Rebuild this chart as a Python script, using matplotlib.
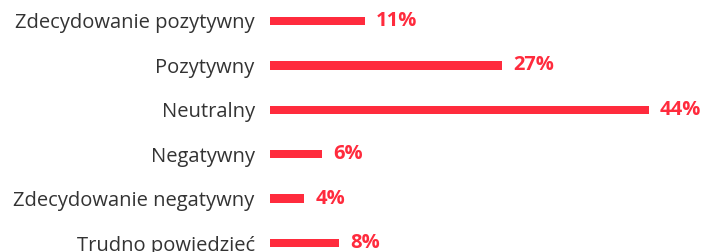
import matplotlib.pyplot as plt

categories = ["Zdecydowanie pozytywny", "Pozytywny", "Neutralny", "Negatywny",
              "Zdecydowanie negatywny", "Trudno powiedzieć"]
values = [11, 27, 44, 6, 4, 8]
labels = ["11%", "27%", "44%", "6%", "4%", "8%"]

red = "#FF2B3D"

fig = plt.figure(figsize=(7.04, 2.52), dpi=100)
ax = fig.add_axes([270 / 704, 0, 1 - 270 / 704, 1])

pos = list(range(len(categories)))
ax.barh(pos, values, height=0.19, color=red)
for p, v, t in zip(pos, values, labels):
    ax.text(v + 1.3, p, t, color=red, fontsize=14.5, fontweight="bold",
            va="center", ha="left", family="Open Sans")

ax.set_yticks(pos)
ax.set_yticklabels(categories, fontsize=14.5, color="#333333", family="Open Sans")
ax.tick_params(axis="y", length=0, pad=11)
ax.set_xticks([])
ax.set_xlim(0, (704 - 270) / 8.61)
ax.set_ylim(5 + 9 / 44.4, -21 / 44.4)
for s in ax.spines.values():
    s.set_visible(False)

fig.savefig("out.png", dpi=100)
